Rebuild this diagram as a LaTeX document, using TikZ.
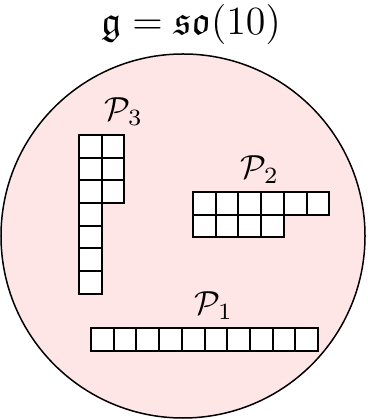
\documentclass[tikz,border=0pt]{standalone}
\usepackage{amsmath}
\usepackage{amssymb}
\begin{document}
\begin{tikzpicture}[x=0.3pt,y=0.3pt]
\definecolor{algpink}{RGB}{255,230,230}
\tikzset{box/.style={draw=black,fill=white,line width=0.6pt}}
\useasboundingbox (0,0) rectangle (367,419);

% The ambient algebra.
\draw[fill=algpink,line width=0.45pt] (183,183) circle[radius=182];
\node[font=\large] (title) at (191,394) {$\mathfrak{g}=\mathfrak{so}(10)$};

% P1: a single row of ten boxes.
\foreach \i in {0,...,9}
  \draw[box] ({91+22.7*\i},68) rectangle ++(22.7,22.7);
\node (p1) at (214,113) {$\mathcal{P}_1$};

% P2: rows of six and four.
\foreach \i in {0,...,5}
  \draw[box] ({193+22.7*\i},204.3) rectangle ++(22.7,22.7);
\foreach \i in {0,...,3}
  \draw[box] ({193+22.7*\i},181.6) rectangle ++(22.7,22.7);
\node (p2) at (260,249) {$\mathcal{P}_2$};

% P3: columns of seven and three.
\foreach \j in {1,...,7}
  \draw[box] (79,{284-22.7*\j}) rectangle ++(22.7,22.7);
\foreach \j in {1,2,3}
  \draw[box] (101.7,{284-22.7*\j}) rectangle ++(22.7,22.7);
\node (p3) at (124,307) {$\mathcal{P}_3$};
\end{tikzpicture}
\end{document}
